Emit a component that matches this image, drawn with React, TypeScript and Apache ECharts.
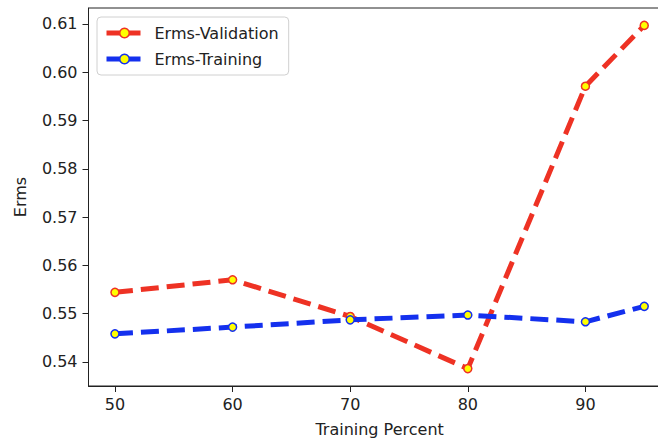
import React, { useEffect, useRef } from "react";
import * as echarts from "echarts";

const trainingPercent = [50, 60, 70, 80, 90, 95];
const ermsValidation = [0.5544, 0.557, 0.5494, 0.5386, 0.5971, 0.6097];
const ermsTraining = [0.5458, 0.5472, 0.5487, 0.5497, 0.5483, 0.5515];
const xTicks = [50, 60, 70, 80, 90];
const yTicks = [0.54, 0.55, 0.56, 0.57, 0.58, 0.59, 0.6, 0.61];

const FONT = "DejaVu Sans";
const RED = "#ee3224";
const BLUE = "#1430ee";

export default function App() {
  const ref = useRef<HTMLDivElement>(null);
  useEffect(() => {
    if (!ref.current) return;
    const chart = echarts.init(ref.current, undefined, { renderer: "svg" });
    const mkSeries = (name: string, vals: number[], color: string) => ({
      name,
      type: "line",
      data: trainingPercent.map((x, i) => [x, vals[i]]),
      symbol: "circle",
      symbolSize: 8,
      showSymbol: true,
      lineStyle: { color, width: 5, type: [18, 8] },
      itemStyle: { color: "#ffff00", borderColor: color, borderWidth: 1.5 },
      emphasis: { disabled: true },
      z: 3,
    });
    chart.setOption({
      animation: false,
      textStyle: { fontFamily: FONT },
      grid: {
        left: 88.5,
        top: 8,
        right: 9.3,
        bottom: 54.3,
        show: true,
        borderColor: "#222",
        borderWidth: 1,
        backgroundColor: "transparent",
      },
      legend: {
        left: 97,
        top: 17,
        orient: "vertical",
        data: ["Erms-Validation", "Erms-Training"],
        itemWidth: 36,
        itemHeight: 12,
        itemGap: 10,
        padding: [8, 10, 8, 7],
        borderColor: "#d0d0d0",
        borderWidth: 1,
        borderRadius: 4,
        backgroundColor: "rgba(255,255,255,0.8)",
        lineStyle: { width: 5, type: [14, 6] },
        itemStyle: { borderWidth: 1.5 },
        textStyle: { fontFamily: FONT, fontSize: 16, color: "#222", padding: [0, 0, 0, 7] },
      },
      xAxis: {
        type: "value",
        min: 47.75,
        max: 97.25,
        name: "Training Percent",
        nameLocation: "middle",
        nameGap: 35,
        nameTextStyle: { fontFamily: FONT, fontSize: 16, color: "#222" },
        splitLine: { show: false },
        axisLine: { show: true, onZero: false, lineStyle: { color: "#222", width: 1 } },
        axisTick: { show: true, length: 6, customValues: xTicks, lineStyle: { color: "#222" } },
        axisLabel: { customValues: xTicks, fontFamily: FONT, fontSize: 16, color: "#222", margin: 10 },
      },
      yAxis: {
        type: "value",
        min: 0.535,
        max: 0.6133,
        name: "Erms",
        nameLocation: "middle",
        nameGap: 60,
        nameTextStyle: { fontFamily: FONT, fontSize: 16, color: "#222" },
        splitLine: { show: false },
        axisLine: { show: true, onZero: false, lineStyle: { color: "#222", width: 1 } },
        axisTick: { show: true, length: 6, customValues: yTicks, lineStyle: { color: "#222" } },
        axisLabel: {
          customValues: yTicks,
          fontFamily: FONT,
          fontSize: 16,
          color: "#222",
          margin: 11,
          formatter: (v: number) => v.toFixed(2),
        },
      },
      series: [
        mkSeries("Erms-Validation", ermsValidation, RED),
        mkSeries("Erms-Training", ermsTraining, BLUE),
      ],
    });
    return () => chart.dispose();
  }, []);
  return (
    <div
      style={{ position: "absolute", left: 0, top: 0, width: 658, height: 442, overflow: "hidden", background: "#fff" }}
    >
      <div ref={ref} style={{ width: 680, height: 442 }} />
    </div>
  );
}
